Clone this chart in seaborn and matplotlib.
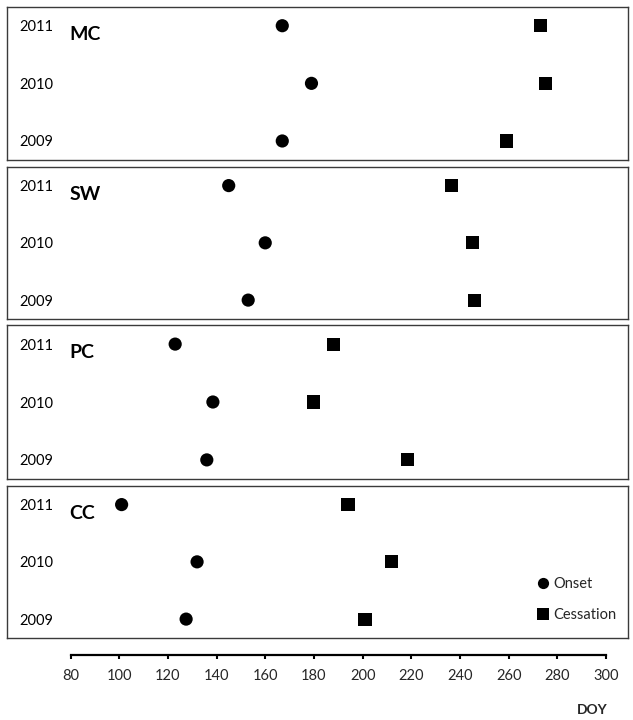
import pandas as pd
import matplotlib.pyplot as plt
import seaborn as sns

sns.set_theme(style="white")
plt.rcParams["font.family"] = ["Lato", "DejaVu Sans"]

# Values (day of year)
sites = ["MC", "SW", "PC", "CC"]
years = [2009, 2010, 2011]
onset = {
    "MC": [167, 179, 167],
    "SW": [153, 160, 145],
    "PC": [136, 138.5, 123],
    "CC": [127.5, 132, 101],
}
cessation = {
    "MC": [259, 275, 273],
    "SW": [246, 245, 236.5],
    "PC": [218.5, 180, 188],
    "CC": [201, 212, 194],
}

rows = []
for s in sites:
    for i, y in enumerate(years):
        rows.append({"site": s, "year": y, "event": "Onset", "doy": onset[s][i]})
        rows.append({"site": s, "year": y, "event": "Cessation", "doy": cessation[s][i]})
df = pd.DataFrame(rows)

W, H = 633, 720
fig = plt.figure(figsize=(W / 100, H / 100), dpi=100)

# panel boxes in pixels (top, bottom)
boxes = [(6.7, 160), (166.7, 319), (325, 479), (485.7, 638)]
x0, x1 = 7.3, 628
xlim = (80 - (70.5 - x0) / 2.434, 300 + (x1 - 606) / 2.434)

for k, s in enumerate(sites):
    top, bot = boxes[k]
    ax = fig.add_axes([x0 / W, 1 - bot / H, (x1 - x0) / W, (bot - top) / H])
    sns.scatterplot(data=df[df["site"] == s], x="doy", y="year", style="event",
                    markers={"Onset": "o", "Cessation": "s"},
                    style_order=["Onset", "Cessation"],
                    color="black", s=90, edgecolor="black", linewidth=0, ax=ax,
                    legend=(k == 3))
    ax.set_xlim(*xlim)
    ax.set_ylim(2008.67, 2011.33)
    ax.set_xticks([])
    ax.set_yticks(years)
    ax.set_yticklabels([str(y) for y in years])
    ax.tick_params(axis="y", length=0, pad=-9, labelsize=10.5, labelcolor="black")
    for lab in ax.get_yticklabels():
        lab.set_horizontalalignment("left")
    ax.set_xlabel("")
    ax.set_ylabel("")
    for sp in ax.spines.values():
        sp.set_color("#3a3a3a")
        sp.set_linewidth(1.0)
    ax.text(0.1, 0.82, s, transform=ax.transAxes, fontsize=14,
            fontweight="bold", ha="left", va="center", color="black")
    if k == 3:
        ax.legend(loc="lower right", bbox_to_anchor=(1.0, 0.03), frameon=False,
                  fontsize=10.5, handletextpad=0.0, handlelength=1.4,
                  labelspacing=1.12, borderpad=0.3, markerscale=0.85)

# separate x axis at the bottom
axx = fig.add_axes([x0 / W, 1 - 655 / H, (x1 - x0) / W, 0.001])
axx.set_xlim(*xlim)
axx.set_yticks([])
for name in ["top", "left", "right"]:
    axx.spines[name].set_visible(False)
axx.spines["bottom"].set_bounds(80, 300)
axx.spines["bottom"].set_linewidth(1.6)
axx.spines["bottom"].set_color("black")
axx.set_xticks(range(80, 301, 20))
axx.tick_params(axis="x", direction="out", length=3, width=1.5, pad=7,
                labelsize=10.5, bottom=True, color="black")
axx.patch.set_visible(False)

fig.text(592 / W, 1 - 710 / H, "DOY", fontsize=10, fontweight="bold",
         ha="center", va="center")

fig.savefig("out.png", dpi=100)
